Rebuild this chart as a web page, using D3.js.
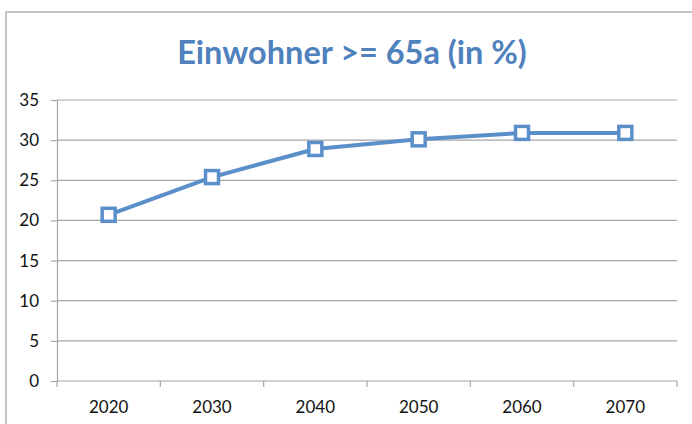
<!DOCTYPE html>
<html>
<head>
<meta charset="utf-8">
<script src="https://cdn.jsdelivr.net/npm/d3@7"></script>
<style>
  html, body { margin: 0; padding: 0; background: #fff; }
  svg { display: block; }
</style>
</head>
<body>
<svg id="chart" width="692" height="424"></svg>
<script>
// Share of residents aged 65 and over, per decade
const years = ["2020", "2030", "2040", "2050", "2060", "2070"];
const shareOver65 = [20.7, 25.4, 28.9, 30.1, 30.9, 30.9];
const yTicks = [0, 5, 10, 15, 20, 25, 30, 35];
const titleText = "Einwohner >= 65a (in %)";

const svg = d3.select("#chart");
const W = 692, H = 424;
const plot = { left: 57, right: 677, top: 100, bottom: 381 };
const blue = "#5b8fca";
const gridGrey = "#a6a6a6";
const fontFam = "Lato, 'Open Sans', sans-serif";

// outer chart frame
svg.append("rect")
  .attr("x", 6).attr("y", 12)
  .attr("width", W + 20).attr("height", H + 20)
  .attr("fill", "none")
  .attr("stroke", "#b3b3b3")
  .attr("stroke-width", 1.5);

// title
svg.append("text")
  .attr("x", 352).attr("y", 64)
  .attr("text-anchor", "middle")
  .attr("font-family", fontFam)
  .attr("font-weight", 700)
  .attr("font-size", 32.5)
  .attr("fill", "#4f81bd")
  .text(titleText);

const x = d3.scaleBand().domain(years).range([plot.left, plot.right]).padding(0);
const y = d3.scaleLinear().domain([0, 35]).range([plot.bottom, plot.top]);

// horizontal gridlines
svg.append("g")
  .selectAll("line")
  .data(yTicks.filter(t => t > 0))
  .join("line")
  .attr("x1", plot.left).attr("x2", plot.right)
  .attr("y1", d => y(d)).attr("y2", d => y(d))
  .attr("stroke", gridGrey)
  .attr("stroke-width", 1.2);

// y axis
const yAxis = svg.append("g")
  .attr("transform", `translate(${plot.left},0)`)
  .call(d3.axisLeft(y).tickValues(yTicks).tickSize(6).tickPadding(12));
yAxis.select(".domain").attr("stroke", gridGrey).attr("stroke-width", 1.2);
yAxis.selectAll(".tick line").attr("stroke", gridGrey).attr("stroke-width", 1.2);
yAxis.selectAll(".tick text")
  .attr("font-family", fontFam)
  .attr("font-size", 17)
  .attr("fill", "#111");

// x axis: labels centred in each category, tick marks on category boundaries
const xAxis = svg.append("g")
  .attr("transform", `translate(0,${plot.bottom})`)
  .call(d3.axisBottom(x).tickSize(0).tickPadding(20));
xAxis.select(".domain").remove();
xAxis.selectAll(".tick text")
  .attr("font-family", fontFam)
  .attr("font-size", 17)
  .attr("fill", "#111");

svg.append("line")
  .attr("x1", plot.left).attr("x2", plot.right)
  .attr("y1", plot.bottom).attr("y2", plot.bottom)
  .attr("stroke", gridGrey).attr("stroke-width", 1.2);

const boundaries = years.map(d => x(d)).concat([x(years[years.length - 1]) + x.bandwidth()]);
svg.append("g")
  .selectAll("line")
  .data(boundaries)
  .join("line")
  .attr("x1", d => d).attr("x2", d => d)
  .attr("y1", plot.bottom).attr("y2", plot.bottom + 6)
  .attr("stroke", gridGrey).attr("stroke-width", 1.2);

// data line
const cx = d => x(d) + x.bandwidth() / 2;
const line = d3.line()
  .x((d, i) => cx(years[i]))
  .y(d => y(d));

svg.append("path")
  .datum(shareOver65)
  .attr("d", line)
  .attr("fill", "none")
  .attr("stroke", blue)
  .attr("stroke-width", 4)
  .attr("stroke-linejoin", "round");

// square markers
const m = 13;
svg.append("g")
  .selectAll("rect")
  .data(shareOver65)
  .join("rect")
  .attr("x", (d, i) => cx(years[i]) - m / 2)
  .attr("y", d => y(d) - m / 2)
  .attr("width", m).attr("height", m)
  .attr("fill", "#fff")
  .attr("stroke", blue)
  .attr("stroke-width", 3.5);
</script>
</body>
</html>
